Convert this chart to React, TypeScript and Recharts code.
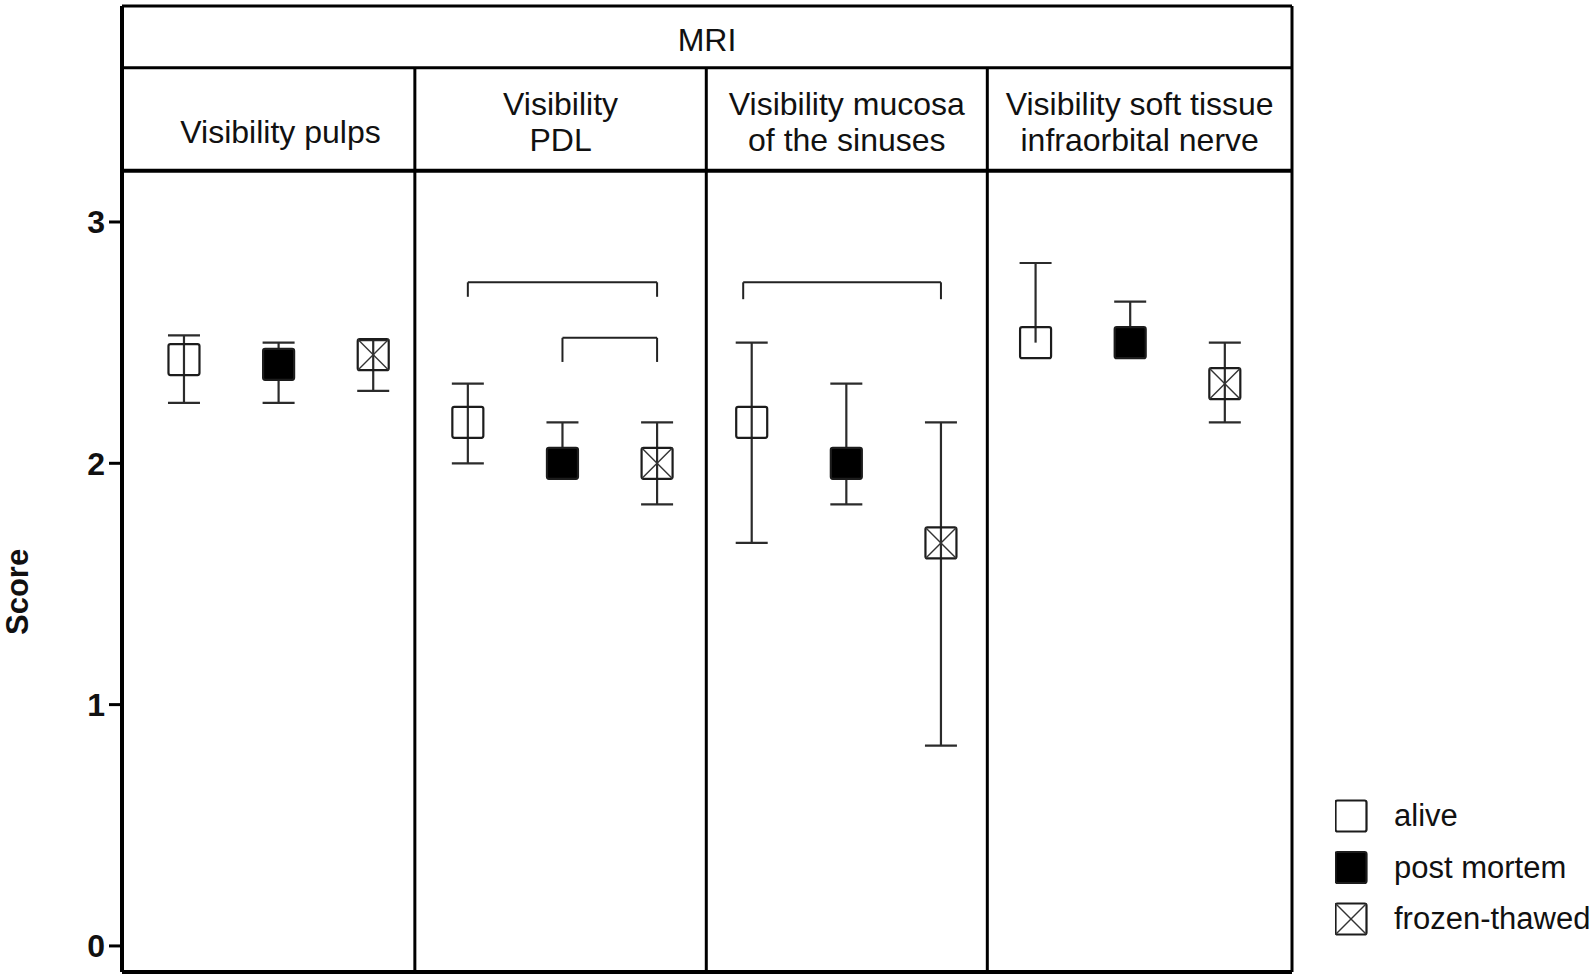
import React from 'react';
import { ComposedChart, Scatter, XAxis, YAxis, ReferenceLine, ReferenceArea, Legend } from 'recharts';

const FONT = "'Liberation Sans', Arial, Helvetica, sans-serif";

// header cells, one per panel
const headerTitle = 'MRI';
const panelTitles = [
  ['Visibility pulps'],
  ['Visibility', 'PDL'],
  ['Visibility mucosa', 'of the sinuses'],
  ['Visibility soft tissue', 'infraorbital nerve'],
];

const groupNames = ['alive', 'post mortem', 'frozen-thawed'];

// score per panel (mean and whisker ends)
const aliveMean = [2.43, 2.17, 2.17, 2.5];
const aliveLow = [2.25, 2.0, 1.67, 2.5];
const aliveHigh = [2.53, 2.33, 2.5, 2.83];

const postMean = [2.41, 2.0, 2.0, 2.5];
const postLow = [2.25, 2.0, 1.83, 2.5];
const postHigh = [2.5, 2.17, 2.33, 2.67];

const frozenMean = [2.45, 2.0, 1.67, 2.33];
const frozenLow = [2.3, 1.83, 0.83, 2.17];
const frozenHigh = [2.51, 2.17, 2.17, 2.5];

const yTicks = [0, 1, 2, 3];

// significance brackets
const bracketFrom = [3, 4, 5.91];
const bracketTo = [5, 5, 8];
const bracketTop = [2.75, 2.52, 2.75];
const bracketEnd = [2.69, 2.42, 2.68];

// layout in axis units
const X_MIN = -0.655;
const X_MAX = 11.71;
const Y_MIN = -0.108;
const Y_MAX = 3.895;
const HEAD_LINE = 3.639;
const SUB_LINE = 3.212;
const dividers = [2.44, 5.52, 8.49];
// left edge of the first title cell (title sits over the middle marker)
const FIRST_CELL = -0.4;

const groups = [
  { name: groupNames[0], mean: aliveMean, low: aliveLow, high: aliveHigh },
  { name: groupNames[1], mean: postMean, low: postLow, high: postHigh },
  { name: groupNames[2], mean: frozenMean, low: frozenLow, high: frozenHigh },
];

const seriesData = groups.map((g, gi) => g.mean.map((m, p) => ({ x: p * 3 + gi, y: m })));

// one whisker per point: low end and high end, cap only where it differs from the mean
const whiskers = groups.flatMap((g, gi) =>
  g.mean.map((m, p) => [
    { x: p * 3 + gi, y: g.low[p], cap: g.low[p] < m },
    { x: p * 3 + gi, y: g.high[p], cap: g.high[p] > m },
  ])
);

const BOX = 31;
const WHISKER = '#2b2b2b';

function Marker({ cx, cy, kind }: { cx: number; cy: number; kind: string }) {
  const h = BOX / 2;
  return (
    <g>
      <rect x={cx - h} y={cy - h} width={BOX} height={BOX} rx={2}
        fill={kind === 'post mortem' ? '#000' : 'none'} stroke="#1c1c1c" strokeWidth={2.2} />
      {kind === 'frozen-thawed' && (
        <>
          <line x1={cx - h} y1={cy - h} x2={cx + h} y2={cy + h} stroke="#333" strokeWidth={1.4} />
          <line x1={cx + h} y1={cy - h} x2={cx - h} y2={cy + h} stroke="#333" strokeWidth={1.4} />
        </>
      )}
    </g>
  );
}

const Cap = (p: any) =>
  p.payload && p.payload.cap ? (
    <line x1={p.cx - 16} x2={p.cx + 16} y1={p.cy} y2={p.cy} stroke={WHISKER} strokeWidth={2.2} />
  ) : (
    <g />
  );

const HeaderLabel = (props: any) => {
  const { viewBox, lines, first, lineHeight = 36 } = props;
  if (!viewBox) return null;
  const cx = viewBox.x + viewBox.width / 2;
  return (
    <text textAnchor="middle" fontFamily={FONT} fontSize={32} fill="#111">
      {lines.map((l: string, i: number) => (
        <tspan key={i} x={cx} y={viewBox.y + first + i * lineHeight}>{l}</tspan>
      ))}
    </text>
  );
};

const ScoreLabel = (props: any) => {
  const { viewBox } = props;
  if (!viewBox) return null;
  const y = viewBox.y + (viewBox.height * (Y_MAX - 1.5)) / (Y_MAX - Y_MIN) + 8;
  return (
    <text x={28} y={y} transform={`rotate(-90 28 ${y})`} textAnchor="middle"
      fontFamily={FONT} fontSize={31} fontWeight="bold" fill="#111">Score</text>
  );
};

const LegendBox = () => (
  <svg width={260} height={140}>
    {groupNames.map((name, i) => {
      const cy = 18 + i * 51.5;
      return (
        <g key={name}>
          <Marker cx={16} cy={cy} kind={name} />
          <text x={59} y={cy + 10} fontFamily={FONT} fontSize={31} fill="#111">{name}</text>
        </g>
      );
    })}
  </svg>
);

export default function App() {
  const edges = [FIRST_CELL, ...dividers, X_MAX];
  return (
    <div style={{ width: 1595, height: 979, background: '#fff' }}>
      <style>{'body{margin:0}'}</style>
      <ComposedChart width={1595} height={979} margin={{ top: 6, right: 303, bottom: 6, left: 0 }}>
        <XAxis type="number" dataKey="x" domain={[X_MIN, X_MAX]} allowDataOverflow
          tick={false} tickLine={false} height={1}
          axisLine={{ stroke: '#000', strokeWidth: 4 }} />
        <YAxis type="number" dataKey="y" domain={[Y_MIN, Y_MAX]} allowDataOverflow ticks={yTicks}
          width={122} tickSize={13} tickMargin={4}
          axisLine={{ stroke: '#000', strokeWidth: 4 }}
          tickLine={{ stroke: '#000', strokeWidth: 3 }}
          tick={{ fontFamily: FONT, fontSize: 32, fontWeight: 'bold', fill: '#111' }}
          label={<ScoreLabel />} />

        {/* frame */}
        <ReferenceLine y={Y_MAX} stroke="#000" strokeWidth={3} />
        <ReferenceLine x={X_MAX} stroke="#000" strokeWidth={3} />
        <ReferenceLine y={HEAD_LINE} stroke="#000" strokeWidth={3} />
        <ReferenceLine y={SUB_LINE} stroke="#000" strokeWidth={4} />
        {dividers.map((d) => (
          <ReferenceLine key={d} segment={[{ x: d, y: Y_MIN }, { x: d, y: HEAD_LINE }]} stroke="#000" strokeWidth={3} />
        ))}

        <ReferenceArea x1={X_MIN} x2={X_MAX} y1={HEAD_LINE} y2={Y_MAX} fill="none" stroke="none"
          label={<HeaderLabel lines={[headerTitle]} first={45} />} />
        {panelTitles.map((lines, i) => (
          <ReferenceArea key={i} x1={edges[i]} x2={edges[i + 1]} y1={SUB_LINE} y2={HEAD_LINE}
            fill="none" stroke="none"
            label={<HeaderLabel lines={lines} first={lines.length === 1 ? 75 : 47} />} />
        ))}

        {/* brackets */}
        {bracketFrom.map((from, i) => (
          <React.Fragment key={i}>
            <ReferenceLine segment={[{ x: from, y: bracketEnd[i] }, { x: from, y: bracketTop[i] }]} stroke="#222" strokeWidth={2} />
            <ReferenceLine segment={[{ x: from, y: bracketTop[i] }, { x: bracketTo[i], y: bracketTop[i] }]} stroke="#222" strokeWidth={2} />
            <ReferenceLine segment={[{ x: bracketTo[i], y: bracketTop[i] }, { x: bracketTo[i], y: bracketEnd[i] }]} stroke="#222" strokeWidth={2} />
          </React.Fragment>
        ))}

        {whiskers.map((w, i) => (
          <Scatter key={'w' + i} data={w} isAnimationActive={false} legendType="none"
            line={{ stroke: WHISKER, strokeWidth: 2.2 }} lineType="joint" shape={Cap} />
        ))}

        {groups.map((g, gi) => (
          <Scatter key={g.name} name={g.name} data={seriesData[gi]} isAnimationActive={false}
            shape={(p: any) => <Marker cx={p.cx} cy={p.cy} kind={g.name} />} />
        ))}

        <Legend layout="vertical" align="center" verticalAlign="middle"
          wrapperStyle={{ left: 1335, top: 798, width: 260 }} content={() => <LegendBox />} />
      </ComposedChart>
    </div>
  );
}
